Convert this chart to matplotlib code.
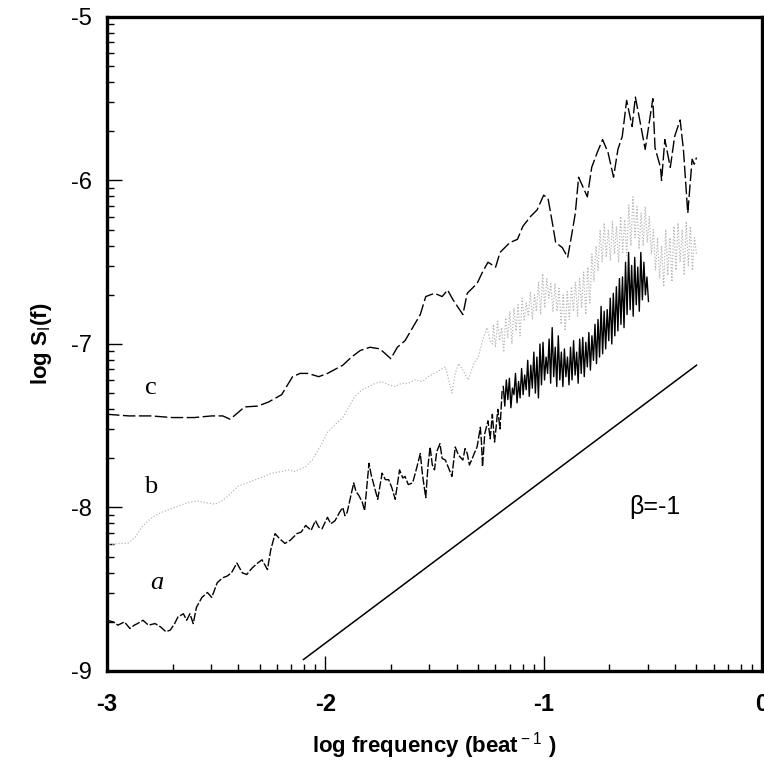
import numpy as np
import matplotlib
matplotlib.use("Agg")
import matplotlib.pyplot as plt
from matplotlib import font_manager
from matplotlib.ticker import FixedLocator

# ---------------- data ----------------
# curve c (dashed black)
c_x = [-3.00, -2.90, -2.80, -2.70, -2.60, -2.52, -2.47, -2.436, -2.40, -2.37, -2.31, -2.26,
       -2.20, -2.15, -2.115, -2.08, -2.03, -1.99, -1.92, -1.88, -1.84, -1.795, -1.75, -1.70,
       -1.67, -1.635, -1.60, -1.565, -1.54, -1.50, -1.465, -1.44, -1.415, -1.37, -1.35, -1.305,
       -1.28, -1.255, -1.22, -1.20, -1.155, -1.12, -1.095, -1.06, -1.03, -1.00, -0.98, -0.96,
       -0.945, -0.915, -0.89, -0.87, -0.855, -0.84, -0.82, -0.80, -0.78, -0.755, -0.73, -0.705,
       -0.68, -0.66, -0.64, -0.62, -0.595, -0.58, -0.56, -0.535, -0.50, -0.49, -0.465, -0.46,
       -0.445, -0.42, -0.40, -0.375, -0.36, -0.34, -0.32, -0.31, -0.30]
c_y = [-7.43, -7.44, -7.44, -7.45, -7.45, -7.44, -7.44, -7.46, -7.42, -7.385, -7.38, -7.355,
       -7.31, -7.20, -7.18, -7.18, -7.20, -7.18, -7.13, -7.08, -7.04, -7.02, -7.03, -7.09,
       -7.02, -6.98, -6.90, -6.82, -6.71, -6.69, -6.71, -6.67, -6.73, -6.82, -6.69, -6.63,
       -6.56, -6.50, -6.53, -6.44, -6.38, -6.36, -6.28, -6.22, -6.18, -6.09, -6.11, -6.26,
       -6.38, -6.41, -6.47, -6.32, -6.20, -5.98, -6.04, -6.10, -5.92, -5.83, -5.75, -5.83,
       -5.98, -5.81, -5.73, -5.51, -5.67, -5.49, -5.63, -5.81, -5.50, -5.80, -5.92, -6.00,
       -5.75, -5.92, -5.73, -5.63, -5.81, -6.20, -5.87, -5.90, -5.86]

# curve b (light grey dotted): smooth low-frequency part
b_x = [-2.99, -2.95, -2.905, -2.87, -2.84, -2.81, -2.78, -2.75, -2.69, -2.63, -2.59, -2.55,
       -2.505, -2.475, -2.445, -2.40, -2.36, -2.32, -2.28, -2.245, -2.20, -2.17, -2.14, -2.09,
       -2.06, -2.02, -1.99, -1.96, -1.92, -1.89, -1.865, -1.83, -1.80, -1.77, -1.74, -1.71,
       -1.68, -1.65, -1.62, -1.59, -1.555, -1.53, -1.50, -1.475, -1.45, -1.435, -1.42, -1.405,
       -1.39, -1.37, -1.345, -1.32, -1.30, -1.28, -1.26, -1.245, -1.235]
b_y = [-8.23, -8.22, -8.22, -8.18, -8.12, -8.08, -8.05, -8.03, -8.00, -7.97, -7.96, -7.97,
       -7.98, -7.96, -7.93, -7.87, -7.85, -7.83, -7.81, -7.79, -7.78, -7.77, -7.78, -7.75,
       -7.71, -7.62, -7.54, -7.50, -7.45, -7.38, -7.32, -7.28, -7.26, -7.24, -7.23, -7.25,
       -7.26, -7.24, -7.24, -7.22, -7.23, -7.20, -7.18, -7.16, -7.14, -7.22, -7.30, -7.18,
       -7.12, -7.16, -7.22, -7.12, -7.08, -6.98, -6.90, -6.98, -7.00]
# curve b: noisy high-frequency part, uniformly sampled between these limits
b_noise_range = (-1.23, -0.30)
b_noise_y = [-6.88, -7.02, -6.86, -6.98, -6.90, -7.05, -6.84, -6.96, -6.80, -7.00, -6.78, -6.92, -6.76, -6.95,
             -6.72, -6.86, -6.75, -6.83, -6.68, -6.85, -6.70, -6.80, -6.62, -6.82, -6.57, -6.78, -6.60, -6.72, -6.63, -6.80,
             -6.63, -6.80, -6.66, -6.88, -6.70, -6.92, -6.68, -6.85, -6.65, -6.80, -6.62, -6.83,
             -6.60, -6.78, -6.56, -6.82, -6.53, -6.75, -6.45, -6.62, -6.40, -6.55, -6.30, -6.50,
             -6.26, -6.47, -6.30, -6.49, -6.25, -6.45, -6.28, -6.50, -6.22, -6.44, -6.24, -6.46,
             -6.15, -6.40, -6.10, -6.35, -6.16, -6.42, -6.20, -6.40, -6.16, -6.38, -6.22, -6.45,
             -6.30, -6.55, -6.35, -6.60, -6.40, -6.65, -6.30, -6.58, -6.35, -6.62, -6.28, -6.55,
             -6.26, -6.50, -6.30, -6.58, -6.25, -6.52, -6.28, -6.55, -6.35, -6.45]

# curve a (black): low-frequency part
a_x = [-3.00, -2.97, -2.95, -2.92, -2.895, -2.875, -2.86, -2.835, -2.81, -2.78, -2.755, -2.73,
       -2.71, -2.69, -2.675, -2.65, -2.635, -2.62, -2.605, -2.59, -2.565, -2.54, -2.52, -2.495,
       -2.47, -2.45, -2.43, -2.405, -2.38, -2.36, -2.335, -2.31, -2.29, -2.265, -2.25, -2.23,
       -2.21, -2.185, -2.16, -2.13, -2.11, -2.09, -2.065, -2.045, -2.03, -2.015, -1.99, -1.975,
       -1.955, -1.935, -1.92, -1.91, -1.90, -1.885, -1.87, -1.86, -1.845, -1.83, -1.82, -1.80,
       -1.79, -1.78, -1.77, -1.76, -1.74, -1.725, -1.71, -1.695, -1.68, -1.66, -1.645, -1.635,
       -1.62, -1.60, -1.58, -1.565, -1.555, -1.54, -1.53, -1.52, -1.51, -1.50, -1.49, -1.475,
       -1.465, -1.45, -1.435, -1.42, -1.405, -1.39, -1.37, -1.36, -1.35, -1.34, -1.33, -1.315,
       -1.305, -1.29, -1.285, -1.28, -1.27, -1.255, -1.245, -1.235, -1.225, -1.22, -1.21, -1.20,
       -1.19]
a_y = [-8.69, -8.70, -8.72, -8.70, -8.74, -8.72, -8.71, -8.69, -8.72, -8.71, -8.73, -8.76,
       -8.75, -8.71, -8.67, -8.65, -8.69, -8.65, -8.71, -8.61, -8.55, -8.52, -8.55, -8.46,
       -8.43, -8.42, -8.40, -8.34, -8.40, -8.41, -8.37, -8.34, -8.32, -8.38, -8.26, -8.16,
       -8.19, -8.22, -8.20, -8.16, -8.15, -8.11, -8.14, -8.08, -8.12, -8.13, -8.06, -8.10,
       -8.08, -8.03, -8.00, -8.05, -8.03, -7.94, -7.85, -7.90, -7.93, -7.97, -8.02, -7.73,
       -7.80, -7.85, -7.90, -7.95, -7.79, -7.83, -7.83, -7.88, -7.95, -7.77, -7.82, -7.81,
       -7.86, -7.85, -7.75, -7.67, -7.80, -7.94, -7.75, -7.63, -7.74, -7.77, -7.66, -7.61,
       -7.70, -7.71, -7.76, -7.81, -7.63, -7.68, -7.71, -7.64, -7.67, -7.74, -7.71, -7.66,
       -7.63, -7.51, -7.60, -7.75, -7.55, -7.47, -7.58, -7.43, -7.60, -7.54, -7.40, -7.52,
       -7.28]
# curve a: dense noisy high-frequency part, uniformly sampled between these limits
a_noise_range = (-1.185, -0.52)
a_noise_y = [-7.26, -7.38, -7.22, -7.34, -7.21, -7.39, -7.27, -7.31, -7.18, -7.36, -7.23, -7.33,
             -7.15, -7.31, -7.19, -7.28, -7.10, -7.32, -7.13, -7.27, -7.05, -7.30, -7.08, -7.33,
             -7.00, -7.25, -6.99, -7.22, -7.08, -7.18, -6.97, -7.24, -6.90, -7.20, -7.02, -7.26, -6.95, -7.22,
             -7.05, -7.26, -7.03, -7.20, -7.08, -7.25, -7.02, -7.22, -6.98, -7.19, -7.05, -7.24, -6.97, -7.18,
             -6.96, -7.20, -6.99, -7.14, -6.93, -7.16, -6.95, -7.10, -6.88, -7.12, -6.85, -7.08, -6.77, -7.06,
             -6.80, -7.03, -6.79, -6.98, -6.72, -7.00, -6.69, -6.95, -6.65, -6.92, -6.60, -6.88, -6.59, -6.90,
             -6.50, -6.82, -6.44, -6.79, -6.52, -6.83, -6.47, -6.76, -6.53, -6.80, -6.44, -6.73, -6.50, -6.70,
             -6.59, -6.74]

# reference slope line (beta = -1)
ref_x = [-2.10, -0.30]
ref_y = [-8.93, -7.13]

curve_labels = ["a", "b", "c"]
beta_label = "\u03b2=-1"
x_ticks = [-3, -2, -1, 0]
y_ticks = [-9, -8, -7, -6, -5]

# ---------------- fonts ----------------
available = {f.name for f in font_manager.fontManager.ttflist}
NARROW = 'Liberation Sans Narrow' if 'Liberation Sans Narrow' in available else 'Liberation Sans'
narrow_ok = NARROW == 'Liberation Sans Narrow'

plt.rcParams['mathtext.fontset'] = 'custom'
plt.rcParams['mathtext.rm'] = NARROW
plt.rcParams['mathtext.bf'] = NARROW + ':bold'

fig = plt.figure(figsize=(7.64, 7.61), dpi=100)
ax = fig.add_axes([0.140, 0.1183, 0.8574, 0.8594])

bx_noise = np.linspace(b_noise_range[0], b_noise_range[1], len(b_noise_y))
ax_noise = np.linspace(a_noise_range[0], a_noise_range[1], len(a_noise_y))

ax.plot(list(b_x) + list(bx_noise), list(b_y) + list(b_noise_y),
        linestyle=(0, (1, 1.5)), color='#b8b8b8', lw=0.9)
ax.plot(c_x, c_y, linestyle=(0, (9, 2.5)), color='black', lw=1.0)
ax.plot(a_x, a_y, linestyle=(0, (6, 1.5)), color='black', lw=1.0)
ax.plot(ax_noise, a_noise_y, color='black', lw=1.0)
ax.plot(ref_x, ref_y, color='black', lw=1.1)

ax.text(-2.80, -7.27, curve_labels[2], family='Liberation Serif', fontsize=19,
        ha='center', va='center')
ax.text(-2.80, -7.875, curve_labels[1], family='Liberation Serif', fontsize=19,
        ha='center', va='center')
ax.text(-2.77, -8.46, curve_labels[0], family='Liberation Serif', style='italic', fontsize=19,
        ha='center', va='center')
ax.text(-0.49, -8.0, beta_label, family='Liberation Sans', fontsize=18,
        ha='center', va='center')

ax.set_xlim(-3, 0)
ax.set_ylim(-9, -5)

minor_x = [d + np.log10(k) for d in range(-3, 0) for k in range(2, 10)]
minor_y = [d + np.log10(k) for d in range(-9, -5) for k in range(2, 10)]
ax.xaxis.set_major_locator(FixedLocator(x_ticks))
ax.yaxis.set_major_locator(FixedLocator(y_ticks))
ax.xaxis.set_minor_locator(FixedLocator(minor_x))
ax.yaxis.set_minor_locator(FixedLocator(minor_y))
ax.set_xticklabels([str(t) for t in x_ticks], family=NARROW,
                   fontweight='bold', fontsize=17)
ax.set_yticklabels([str(t) for t in y_ticks], family='Liberation Sans', fontsize=17)

ax.tick_params(which='both', direction='in', top=False, right=False)
ax.tick_params(which='major', length=11, width=1.0)
ax.tick_params(which='minor', length=5, width=1.0)
ax.tick_params(axis='x', which='major', pad=16)
ax.tick_params(axis='y', which='major', pad=11)

for s in ax.spines.values():
    s.set_linewidth(2.4)

ax.set_xlabel(r'log frequency (beat$^{\rm -1}$ )', family=NARROW,
              fontweight='bold', fontsize=17 if narrow_ok else 16, labelpad=10)
ax.set_ylabel(r'log S$_{\rm I}$(f)', family='Liberation Sans', fontweight='bold',
              fontsize=16, labelpad=12)

fig.savefig('out.png', dpi=100)
